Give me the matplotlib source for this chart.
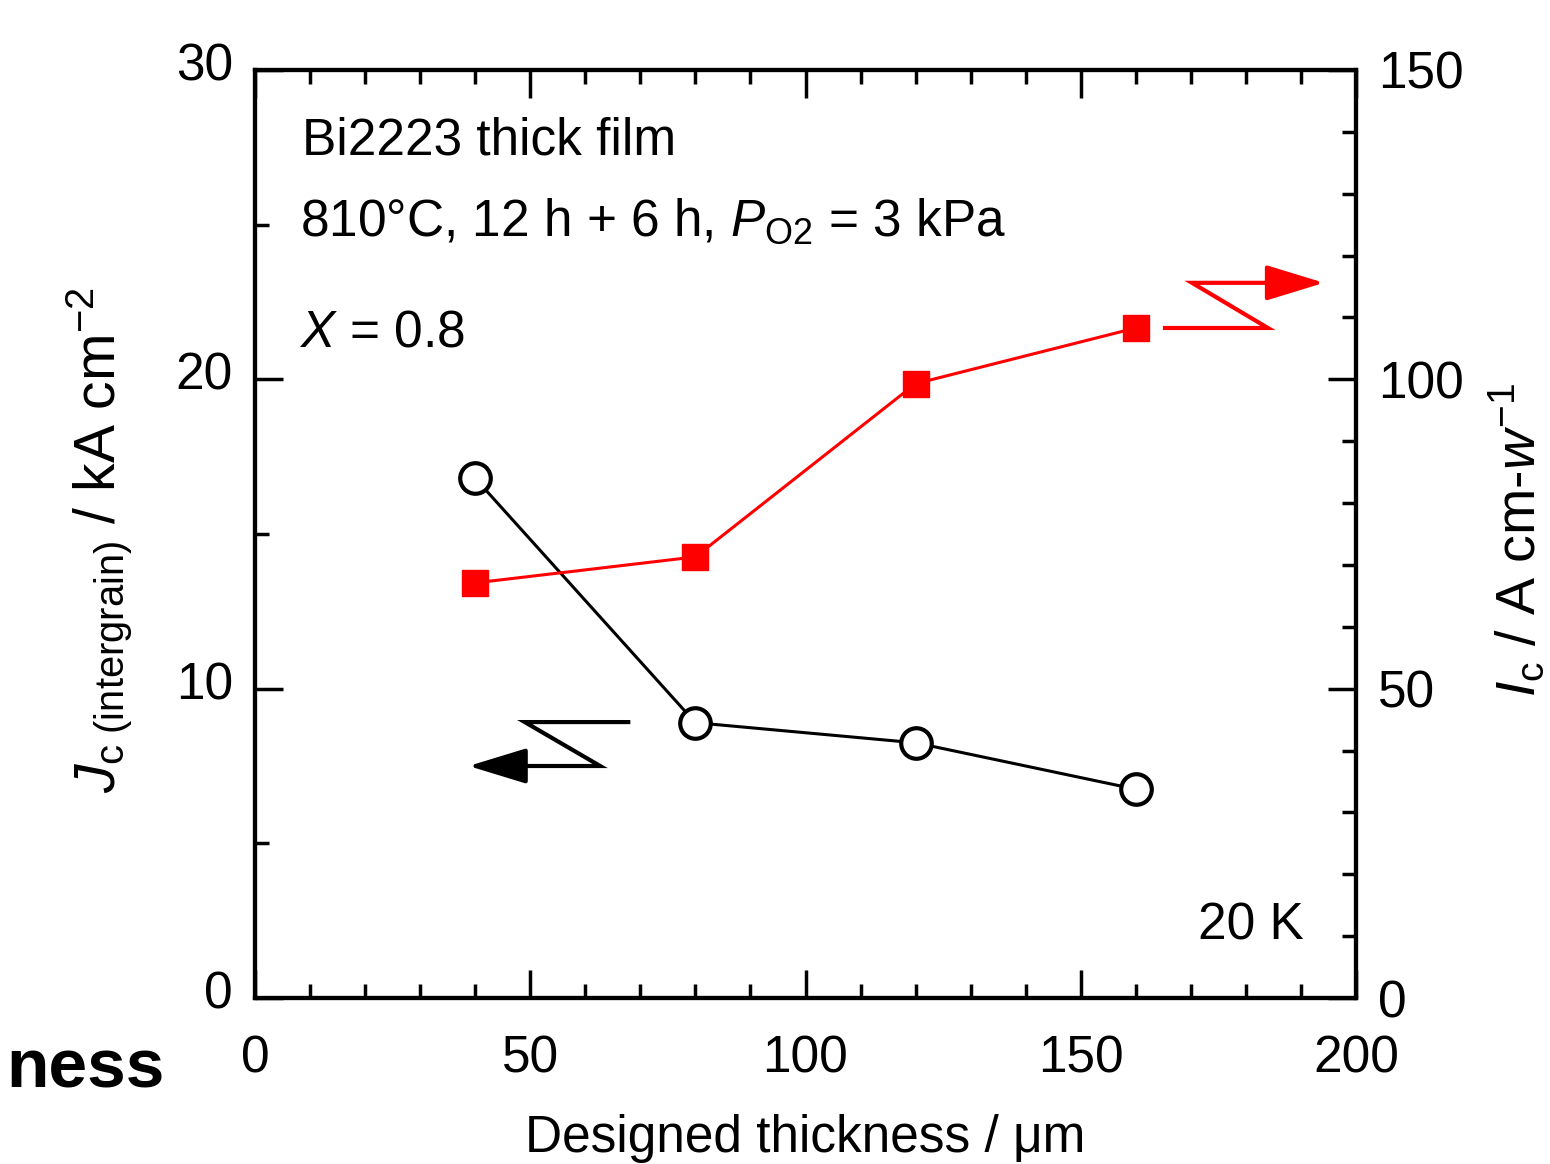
import matplotlib
matplotlib.use("Agg")
import matplotlib.pyplot as plt
from matplotlib.ticker import MultipleLocator
import matplotlib.transforms as mtransforms

plt.rcParams['font.family'] = ['Liberation Sans', 'DejaVu Sans']
plt.rcParams['mathtext.fontset'] = 'custom'
plt.rcParams['mathtext.rm'] = 'Liberation Sans'
plt.rcParams['mathtext.it'] = 'Liberation Sans:italic'
plt.rcParams['mathtext.default'] = 'regular'

# data
thickness = [40, 80, 120, 160]
jc_intergrain = [16.8, 8.9, 8.25, 6.75]   # kA cm^-2 (left axis)
ic_per_width = [67.1, 71.3, 99.3, 108.3]  # A cm-w^-1 (right axis)

RED = '#ff0000'

fig = plt.figure(figsize=(15.5, 11.64), dpi=100)
ax = fig.add_axes([255/1550, 1-998/1164, (1356-255)/1550, (998-70)/1164])
ax2 = ax.twinx()

# black open circles, left axis
ax.plot(thickness, jc_intergrain, color='black', lw=2.2, marker='o', ms=22,
        mfc='white', mec='black', mew=3, zorder=3)
# red squares, right axis
ax2.plot(thickness, ic_per_width, color=RED, lw=2.2, marker='s', ms=19,
         mfc=RED, mec=RED, zorder=3)

ax.set_xlim(0, 200)
ax.set_ylim(0, 30)
ax2.set_ylim(0, 150)

ax.xaxis.set_major_locator(MultipleLocator(50))
ax.xaxis.set_minor_locator(MultipleLocator(10))
ax.yaxis.set_major_locator(MultipleLocator(10))
ax.yaxis.set_minor_locator(MultipleLocator(5))
ax2.yaxis.set_major_locator(MultipleLocator(50))
ax2.yaxis.set_minor_locator(MultipleLocator(10))

for a in (ax, ax2):
    for s in a.spines.values():
        s.set_linewidth(3)
ax.tick_params(axis='x', which='both', direction='in', top=True, width=2.5,
               labelsize=37, pad=26)
ax.tick_params(axis='x', which='major', length=20)
ax.tick_params(axis='x', which='minor', length=10)
ax.tick_params(axis='y', which='both', direction='in', right=False, width=2.5,
               labelsize=37, pad=16)
ax.tick_params(axis='y', which='major', length=20)
ax.tick_params(axis='y', which='minor', length=10)
ax2.tick_params(axis='y', which='both', direction='in', width=2.5,
                labelsize=37, pad=16)
ax2.tick_params(axis='y', which='major', length=20)
ax2.tick_params(axis='y', which='minor', length=10)

# left tick labels sit a bit higher than their ticks
shift = mtransforms.ScaledTranslation(0, 6/72, fig.dpi_scale_trans)
for lab in ax.get_yticklabels():
    lab.set_transform(lab.get_transform() + shift)

ax.set_xlabel('Designed thickness / \u03bcm', fontsize=37, labelpad=22)
fig.text(100/1550, 1-540/1164,
         r'$\mathit{J}_{\mathrm{c\ (intergrain)}}$ / kA cm$^{-2}$',
         fontsize=41, rotation=90, ha='center', va='center')
fig.text(1547/1550, 1-540/1164,
         r'$\mathit{I}_{\mathrm{c}}$ / A cm-$\mathit{w}^{-1}$',
         fontsize=40, rotation=90, ha='right', va='center')

# annotations
ax.text(8.5, 27.26, 'Bi2223 thick film', fontsize=37, va='baseline')
ax.text(8.2, 24.64, r'810°C, 12 h + 6 h, $\mathit{P}_{\mathrm{O2}}$ = 3 kPa',
        fontsize=37, va='baseline')
ax.text(8.2, 21.05, r'$\mathit{X}$ = 0.8', fontsize=37, va='baseline')
ax.text(171.3, 1.875, '20 K', fontsize=37, ha='left', va='baseline')

# Z-shaped arrows pointing to each axis
head = '-|>,head_length=1.8,head_width=0.55'
ax.plot([67.8, 49.0, 62.7, 46.0], [8.92, 8.92, 7.5, 7.5], color='black',
        lw=3, solid_joinstyle='miter')
ax.annotate('', xy=(38.8, 7.5), xytext=(48.5, 7.5),
            arrowprops=dict(arrowstyle=head, color='black', lw=3,
                            mutation_scale=20, shrinkA=0, shrinkB=0))
ax.plot([165.3, 184.0, 170.2, 186.0], [21.66, 21.66, 23.12, 23.12],
        color=RED, lw=3, solid_joinstyle='miter')
ax.annotate('', xy=(194.2, 23.12), xytext=(184.5, 23.12),
            arrowprops=dict(arrowstyle=head, color=RED, lw=3,
                            mutation_scale=20, shrinkA=0, shrinkB=0))

# leftover slide title fragment at bottom left
fig.text(165/1550, 1-1070/1164, 'ness', fontsize=50, fontweight='bold',
         ha='right', va='center')

fig.savefig('out.png', dpi=100)
